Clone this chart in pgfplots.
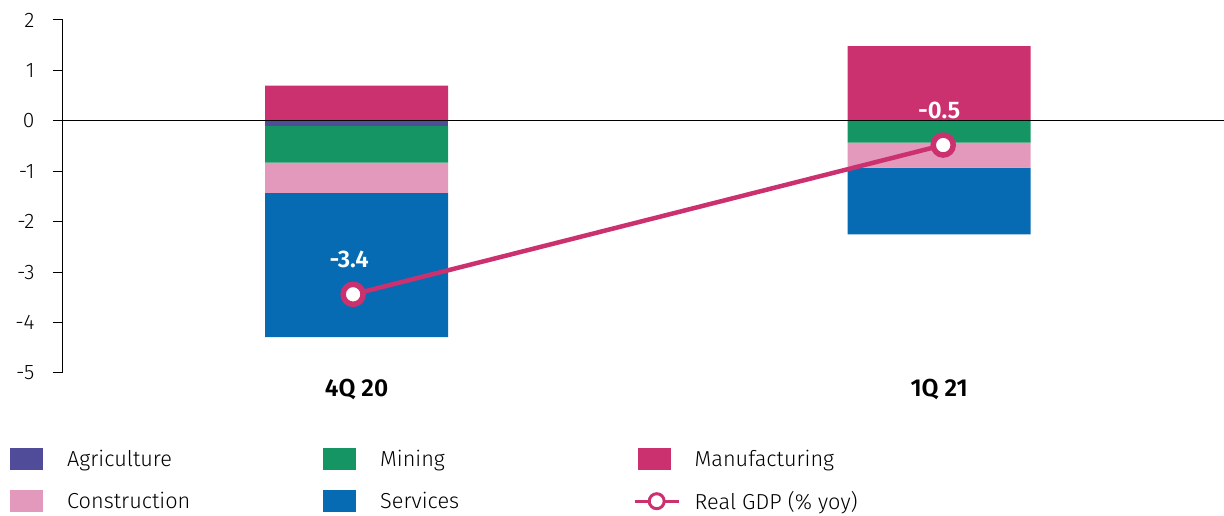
\documentclass[border=0pt]{standalone}
\usepackage{fontspec}
\setmainfont{Fira Sans}[UprightFont=* Light, BoldFont=* SemiBold]
\usepackage{pgfplots}
\pgfplotsset{compat=1.18}
\definecolor{agri}{HTML}{504C9A}
\definecolor{mining}{HTML}{169564}
\definecolor{manuf}{HTML}{CC316F}
\definecolor{constr}{HTML}{E299BB}
\definecolor{serv}{HTML}{066BB2}
\pgfplotsset{base/.style={width=1161pt,height=353pt,scale only axis,
  xmin=-0.504,xmax=1.489,ymin=-5,ymax=2}}
\begin{document}
\begin{tikzpicture}
% negative contributions, stacked downward
\begin{axis}[base, name=main, ybar stacked, bar width=183pt,
  axis lines*=left, x axis line style={draw=none},
  y axis line style={line width=1pt},
  xtick={0,1}, xticklabels={4Q 20,1Q 21},
  xtick style={draw=none},
  xticklabel style={font=\fontsize{24.5}{28}\selectfont\bfseries, yshift=7pt},
  ytick={-5,-4,-3,-2,-1,0,1,2},
  tick align=outside, major tick length=10pt,
  ytick style={black, line width=1pt},
  yticklabel style={font=\fontsize{21}{25}\selectfont, xshift=-15pt},
  /pgf/number format/assume math mode=true]
\addplot[fill=agri, draw=none] coordinates {(0,-0.1) (1,0)};
\addplot[fill=mining, draw=none] coordinates {(0,-0.73) (1,-0.43)};
\addplot[fill=constr, draw=none] coordinates {(0,-0.6) (1,-0.5)};
\addplot[fill=serv, draw=none] coordinates {(0,-2.86) (1,-1.32)};
\end{axis}
% positive contribution
\begin{axis}[base, ybar, bar width=183pt, hide axis]
\addplot[fill=manuf, draw=none, bar shift=0pt] coordinates {(0,0.7) (1,1.48)};
\end{axis}
% zero line, GDP and legend
\begin{axis}[base, hide axis, clip=false,
  /pgf/number format/assume math mode=true,
  legend columns=3, legend cell align=left,
  legend style={draw=none, fill=none, inner sep=0pt, column sep=0pt, row sep=20pt,
    at={(0,0)}, anchor=north west, xshift=-56pt, yshift=-75pt,
    nodes={inner sep=0pt, font=\fontsize{21.7}{25}\selectfont}},
  areaimg/.style={legend image code/.code={\fill[##1, draw=none] (3pt,-11pt) rectangle (36pt,11pt); \path[draw=none, fill=none] (0pt,0pt) -- (60pt,0pt);}},
  lineimg/.style={legend image code/.code={\draw[manuf, line width=3pt] (0pt,0pt) -- (44pt,0pt);
     \filldraw[fill=white, draw=manuf, line width=3pt] (22pt,0pt) circle (7.5pt); \path[draw=none, fill=none] (0pt,0pt) -- (60pt,0pt);}}]
\addplot[black, line width=1.2pt, forget plot] coordinates {(-0.504,0) (1.489,0)};
\addplot[manuf, line width=4.5pt, mark=*, mark size=10pt,
  mark options={fill=white, draw=manuf, line width=5.5pt},
  point meta=y, nodes near coords={\pgfmathprintnumber[fixed,precision=1]{\pgfplotspointmeta}},
  nodes near coords align={anchor=base},
  every node near coord/.append style={text=white, inner sep=0pt, font=\fontsize{24}{28}\selectfont\bfseries, yshift=27pt, xshift=-4pt},
  forget plot] coordinates {(-0.006,-3.44) (1.007,-0.48)};
\addlegendimage{areaimg, fill=agri}
\addlegendentry{\makebox[253pt][l]{Agriculture}}
\addlegendimage{areaimg, fill=mining}
\addlegendentry{\makebox[253pt][l]{Mining}}
\addlegendimage{areaimg, fill=manuf}
\addlegendentry{Manufacturing}
\addlegendimage{areaimg, fill=constr}
\addlegendentry{\makebox[253pt][l]{Construction}}
\addlegendimage{areaimg, fill=serv}
\addlegendentry{\makebox[253pt][l]{Services}}
\addlegendimage{lineimg}
\addlegendentry{Real GDP (\% yoy)}
\end{axis}
\pgfresetboundingbox
\path ([xshift=-63pt,yshift=-143pt]main.south west) rectangle ([yshift=20pt]main.north east);
\end{tikzpicture}
\end{document}
